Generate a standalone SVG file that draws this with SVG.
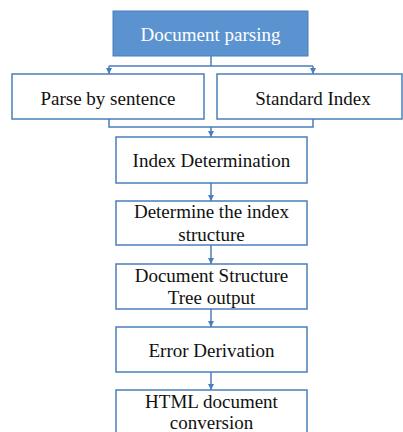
<svg xmlns="http://www.w3.org/2000/svg" width="403" height="432" viewBox="0 0 403 432">
<style>
.box{fill:#fff;stroke:#4a7ebb;stroke-width:1.5}
.t{font-family:"Liberation Serif","Times New Roman",serif;font-size:19px;fill:#111;text-anchor:middle}
.c{fill:none;stroke:#4a7ebb;stroke-width:1.5}
</style>
<defs>
<marker id="ah" viewBox="0 0 10 10" refX="10" refY="5" markerWidth="4" markerHeight="4" orient="auto" markerUnits="strokeWidth">
<path d="M0,0 L10,5 L0,10 z" fill="#4a7ebb"/>
</marker>
</defs>
<rect width="403" height="432" fill="#fff"/>
<g id="connectors">
<path class="c" d="M211,56 V66 M109,66 H313"/>
<path class="c" d="M109,66 V74" marker-end="url(#ah)"/>
<path class="c" d="M313,66 V74" marker-end="url(#ah)"/>
<path class="c" d="M109,119 V127 H313 V119"/>
<path class="c" d="M211,127 V137" marker-end="url(#ah)"/>
<path class="c" d="M211,183 V201" marker-end="url(#ah)"/>
<path class="c" d="M211,245 V264" marker-end="url(#ah)"/>
<path class="c" d="M211,309 V327" marker-end="url(#ah)"/>
<path class="c" d="M211,372 V390" marker-end="url(#ah)"/>
</g>
<g id="n-document-parsing">
<rect x="113" y="11" width="195" height="45" fill="#5b93d0" stroke="#4a7ebb" stroke-width="1"/>
<text class="t" x="210.5" y="40.5" style="fill:#fff">Document parsing</text>
</g>
<g id="n-parse-by-sentence">
<rect class="box" x="12" y="74" width="192" height="45"/>
<text class="t" x="108" y="104.5">Parse by sentence</text>
</g>
<g id="n-standard-index">
<rect class="box" x="217" y="74" width="185" height="45"/>
<text class="t" x="313" y="104.5">Standard Index</text>
</g>
<g id="n-index-determination">
<rect class="box" x="116" y="137" width="191" height="46"/>
<text class="t" x="211.5" y="166.5">Index Determination</text>
</g>
<g id="n-determine-structure">
<rect class="box" x="116" y="201" width="191" height="44"/>
<text class="t" x="211.5" y="217.5">Determine the index</text>
<text class="t" x="211.5" y="240.5">structure</text>
</g>
<g id="n-tree-output">
<rect class="box" x="116" y="264" width="191" height="45"/>
<text class="t" x="211.5" y="281.5">Document Structure</text>
<text class="t" x="211.5" y="303.5">Tree output</text>
</g>
<g id="n-error-derivation">
<rect class="box" x="116" y="327" width="191" height="45"/>
<text class="t" x="211.5" y="357">Error Derivation</text>
</g>
<g id="n-html-conversion">
<rect class="box" x="116" y="390" width="191" height="46"/>
<text class="t" x="211.5" y="407.5">HTML document</text>
<text class="t" x="211.5" y="428.5">conversion</text>
</g>
</svg>
